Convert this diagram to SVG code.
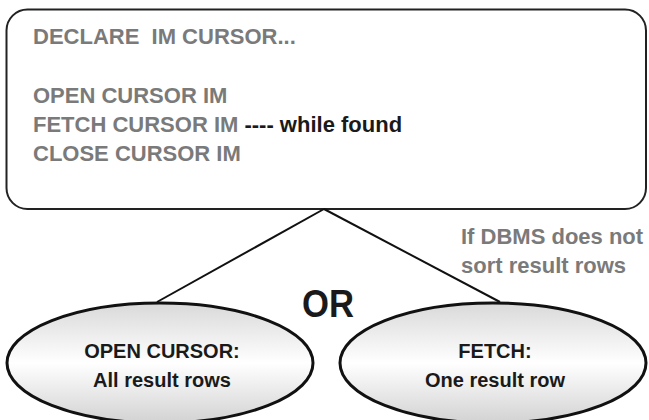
<svg xmlns="http://www.w3.org/2000/svg" width="649" height="420" viewBox="0 0 649 420">
  <defs>
    <linearGradient id="shade" x1="0" y1="0" x2="0" y2="1">
      <stop offset="0" stop-color="#d9d9d9"/>
      <stop offset="0.5" stop-color="#ffffff"/>
      <stop offset="1" stop-color="#d2d2d2"/>
    </linearGradient>
  </defs>
  <style>
    text { font-family: "Liberation Sans", Arial, Helvetica, sans-serif; font-weight: bold; }
    .code { font-size: 22px; fill: #7a7a7a; white-space: pre; }
    .dark { fill: #1a1a1a; }
    .note { font-size: 22px; fill: #7a7a7a; }
    .label { font-size: 20px; fill: #1a1a1a; text-anchor: middle; }
    .box { fill: #ffffff; stroke: #222222; stroke-width: 2; }
    .oval { fill: url(#shade); stroke: #111111; stroke-width: 3; }
    .link { stroke: #111111; stroke-width: 2; fill: none; }
  </style>

  <!-- cursor program -->
  <g id="program">
    <rect class="box" x="6.5" y="9.5" width="639.5" height="199.5" rx="21" ry="21"/>
    <text class="code" x="33" y="44" xml:space="preserve">DECLARE  IM CURSOR...</text>
    <text class="code" x="33" y="103">OPEN CURSOR IM</text>
    <text class="code" x="33" y="132">FETCH CURSOR IM <tspan class="dark">---- while found</tspan></text>
    <text class="code" x="33" y="161">CLOSE CURSOR IM</text>
  </g>

  <!-- connectors -->
  <g id="connectors">
    <line class="link" x1="324" y1="209" x2="157" y2="302"/>
    <line class="link" x1="324" y1="209" x2="500" y2="302"/>
  </g>

  <g id="condition">
    <text class="note" x="461" y="244">If DBMS does not</text>
    <text class="note" x="461" y="273">sort result rows</text>
  </g>

  <g id="or-label">
    <text x="328" y="317" font-size="38" fill="#1a1a1a" text-anchor="middle" textLength="52" lengthAdjust="spacingAndGlyphs">OR</text>
  </g>

  <g id="open-cursor">
    <ellipse class="oval" cx="160" cy="363" rx="153" ry="60"/>
    <text class="label" x="162" y="358">OPEN CURSOR:</text>
    <text class="label" x="162" y="387">All result rows</text>
  </g>

  <g id="fetch">
    <ellipse class="oval" cx="493" cy="363" rx="153" ry="60"/>
    <text class="label" x="495" y="358">FETCH:</text>
    <text class="label" x="495" y="387">One result row</text>
  </g>
</svg>
